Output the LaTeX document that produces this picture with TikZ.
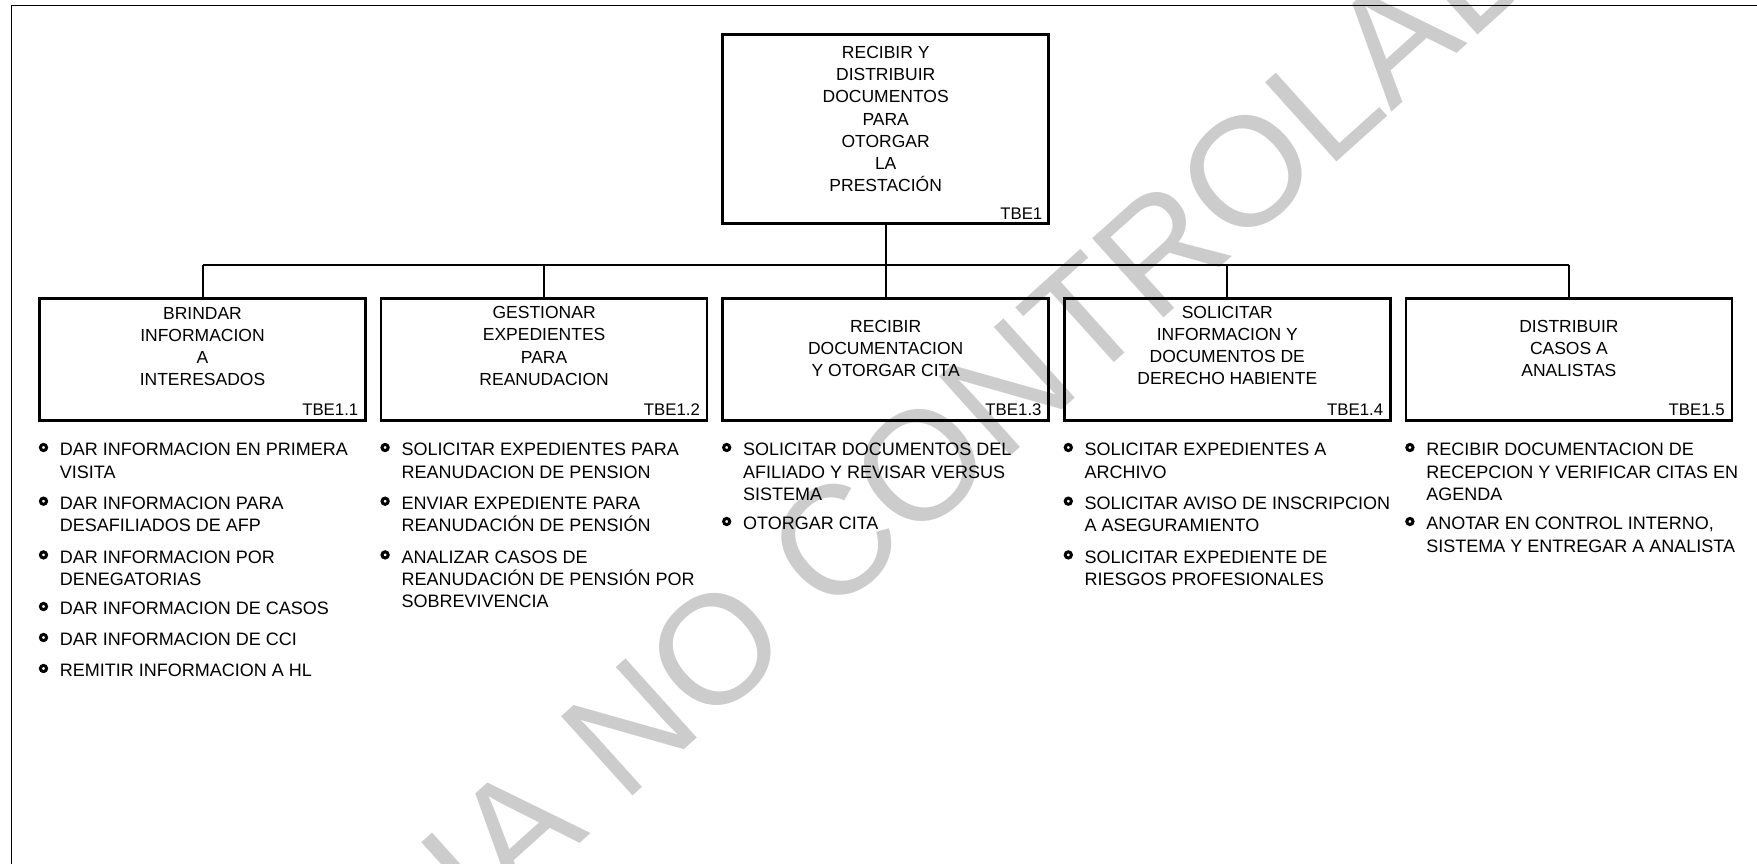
\documentclass[tikz,border=0pt]{standalone}
\usepackage{fontspec}
\setmainfont{Liberation Sans}
\newcommand{\capstrut}{\rule{0pt}{14pt}}
\begin{document}
\begin{tikzpicture}[x=1pt,y=-1pt,
  wm/.style={text=gray!40, inner sep=0pt, font=\fontsize{155}{155}\selectfont},
  frame/.style={line width=1.6pt},
  task/.style={draw, line width=2.6pt, inner sep=0pt, minimum width=326pt},
  toptask/.style={task, minimum height=189pt},
  subtask/.style={task, minimum height=122.5pt},
  title/.style={inner sep=0pt, align=center, anchor=north, font=\fontsize{17.5}{22.2}\selectfont},
  code/.style={inner sep=0pt, anchor=base east, font=\fontsize{16.8}{20}\selectfont},
  item/.style={inner sep=0pt, align=left, anchor=north west, font=\fontsize{18}{22.4}\selectfont},
  bul/.style={draw, circle, line width=3pt, minimum size=6.2pt, inner sep=0pt},
  stem/.style={line width=2pt},
  busline/.style={line width=2.8pt}]
\useasboundingbox (0,0) rectangle (1757,864);

% watermark
\begin{scope}
\clip (0,0) rectangle (1757,864);
\node[wm, rotate=42] (wmark) at (895,488) {COPIA NO CONTROLADA};
\end{scope}

% page frame (top and left rules)
\draw[frame] (11.5,864) -- (11.5,5.5) -- (1757,5.5);

% root task
\node[toptask] (root) at (885.7,129) {};
\node[title] (roott) at (885.7,58.3-14) {\capstrut RECIBIR Y\\DISTRIBUIR\\DOCUMENTOS\\PARA\\OTORGAR\\LA\\PRESTACIÓN};
\node[code] (rootc) at (1042.5,219) {TBE1};

% second level tasks
\node[subtask] (s1) at (202.5,359.5) {};
\node[subtask] (s2) at (544.1,359.5) {};
\node[subtask] (s3) at (885.7,359.5) {};
\node[subtask] (s4) at (1227.3,359.5) {};
\node[subtask] (s5) at (1568.9,359.5) {};

\node[title] (s1t) at (202.5,319-14) {\capstrut BRINDAR\\INFORMACION\\A\\INTERESADOS};
\node[title] (s2t) at (544.1,318.5-14) {\capstrut GESTIONAR\\EXPEDIENTES\\PARA\\REANUDACION};
\node[title] (s3t) at (885.7,332-14) {\capstrut RECIBIR\\DOCUMENTACION\\Y OTORGAR CITA};
\node[title] (s4t) at (1227.3,318-14) {\capstrut SOLICITAR\\INFORMACION Y\\DOCUMENTOS DE\\DERECHO HABIENTE};
\node[title] (s5t) at (1568.9,332-14) {\capstrut DISTRIBUIR\\CASOS A\\ANALISTAS};

\node[code] (s1c) at (358.5,415) {TBE1.1};
\node[code] (s2c) at (700.1,415) {TBE1.2};
\node[code] (s3c) at (1041.7,415) {TBE1.3};
\node[code] (s4c) at (1383.3,415) {TBE1.4};
\node[code] (s5c) at (1724.9,415) {TBE1.5};

% connectors
\coordinate (bus) at (885.7,265);
\draw[stem] (root.south) -- (bus);
\draw[busline] (s1.north |- bus) -- (s5.north |- bus);
\foreach \k in {1,...,5} \draw[stem] (s\k.north |- bus) -- (s\k.north);

% activity lists
\node[bul] (b11) at (43.5,455.5-8) {};
\node[item] (i11) at (59.7,455.5-14) {\capstrut DAR INFORMACION EN PRIMERA\\VISITA};
\node[bul] (b12) at (43.5,509.2-8) {};
\node[item] (i12) at (59.7,509.2-14) {\capstrut DAR INFORMACION PARA\\DESAFILIADOS DE AFP};
\node[bul] (b13) at (43.5,562.9-8) {};
\node[item] (i13) at (59.7,562.9-14) {\capstrut DAR INFORMACION POR\\DENEGATORIAS};
\node[bul] (b14) at (43.5,614.5-8) {};
\node[item] (i14) at (59.7,614.5-14) {\capstrut DAR INFORMACION DE CASOS};
\node[bul] (b15) at (43.5,645.5-8) {};
\node[item] (i15) at (59.7,645.5-14) {\capstrut DAR INFORMACION DE CCI};
\node[bul] (b16) at (43.5,676.5-8) {};
\node[item] (i16) at (59.7,676.5-14) {\capstrut REMITIR INFORMACION A HL};

\node[bul] (b21) at (385.1,455.5-8) {};
\node[item] (i21) at (401.3,455.5-14) {\capstrut SOLICITAR EXPEDIENTES PARA\\REANUDACION DE PENSION};
\node[bul] (b22) at (385.1,509.2-8) {};
\node[item] (i22) at (401.3,509.2-14) {\capstrut ENVIAR EXPEDIENTE PARA\\REANUDACIÓN DE PENSIÓN};
\node[bul] (b23) at (385.1,562.9-8) {};
\node[item] (i23) at (401.3,562.9-14) {\capstrut ANALIZAR CASOS DE\\REANUDACIÓN DE PENSIÓN POR\\SOBREVIVENCIA};

\node[bul] (b31) at (726.7,455.5-8) {};
\node[item] (i31) at (742.9,455.5-14) {\capstrut SOLICITAR DOCUMENTOS DEL\\AFILIADO Y REVISAR VERSUS\\SISTEMA};
\node[bul] (b32) at (726.7,529.5-8) {};
\node[item] (i32) at (742.9,529.5-14) {\capstrut OTORGAR CITA};

\node[bul] (b41) at (1068.3,455.5-8) {};
\node[item] (i41) at (1084.5,455.5-14) {\capstrut SOLICITAR EXPEDIENTES A\\ARCHIVO};
\node[bul] (b42) at (1068.3,509.2-8) {};
\node[item] (i42) at (1084.5,509.2-14) {\capstrut SOLICITAR AVISO DE INSCRIPCION\\A ASEGURAMIENTO};
\node[bul] (b43) at (1068.3,562.9-8) {};
\node[item] (i43) at (1084.5,562.9-14) {\capstrut SOLICITAR EXPEDIENTE DE\\RIESGOS PROFESIONALES};

\node[bul] (b51) at (1409.9,455.5-8) {};
\node[item] (i51) at (1426.1,455.5-14) {\capstrut RECIBIR DOCUMENTACION DE\\RECEPCION Y VERIFICAR CITAS EN\\AGENDA};
\node[bul] (b52) at (1409.9,529.5-8) {};
\node[item] (i52) at (1426.1,529.5-14) {\capstrut ANOTAR EN CONTROL INTERNO,\\SISTEMA Y ENTREGAR A ANALISTA};
\end{tikzpicture}
\end{document}
